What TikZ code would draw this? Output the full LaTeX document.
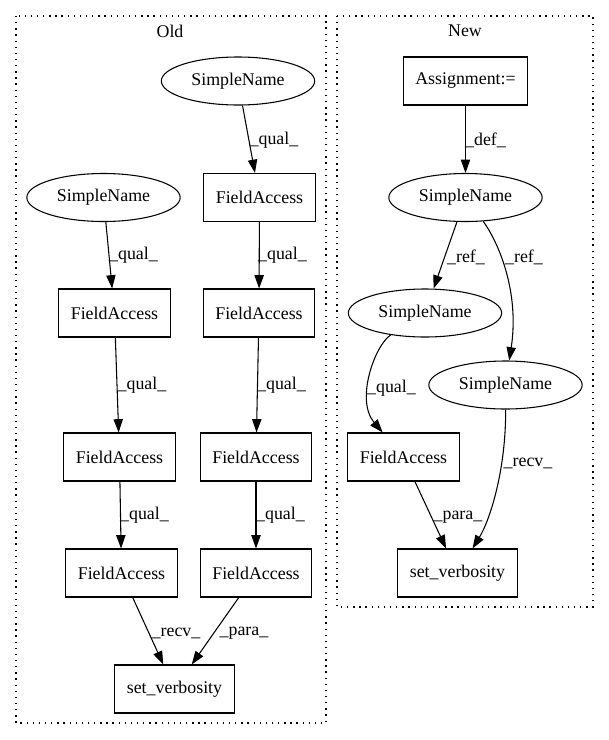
\documentclass[tikz,border=0pt]{standalone}
\usepackage{fontspec}
\setmainfont{Liberation Serif}
\usetikzlibrary{arrows.meta,shapes.geometric}
\begin{document}
\begin{tikzpicture}[x=0.75pt,y=-0.75pt,
  every node/.style={font=\fontsize{13.4}{16}\selectfont},
  box/.style={draw,line width=0.8pt,rectangle,minimum height=36pt,inner xsep=9pt,inner ysep=0pt},
  oval/.style={draw,line width=0.8pt,ellipse,minimum width=115pt,minimum height=36pt,inner sep=0pt},
  edge/.style={draw,line width=0.8pt,-{Triangle[length=10pt,width=7pt]}},
  lbl/.style={inner sep=0pt},
  cluster/.style={draw,line width=0.8pt,dash pattern=on 1pt off 3.6pt}]
\useasboundingbox (0,0) rectangle (609,740);
% clusters
\draw[cluster] (16,16) rectangle (326,723);
\draw[cluster] (337,16) rectangle (593,607);
\node[lbl] (oldlbl) at (170,31) {Old};
\node[lbl] (newlbl) at (465,31) {New};
% Old nodes
\node[oval] (osn1) at (238,81) {SimpleName};
\node[box] (ofr1) at (259.5,197.5) {FieldAccess};
\node[oval] (osn2) at (103.5,197.5) {SimpleName};
\node[box] (ofl2) at (114.5,313) {FieldAccess};
\node[box] (ofr2) at (259,313) {FieldAccess};
\node[box] (ofl3) at (119.5,457) {FieldAccess};
\node[box] (ofr3) at (256,457) {FieldAccess};
\node[box] (ofl4) at (121.5,573) {FieldAccess};
\node[box] (ofr4) at (256,573) {FieldAccess};
\node[box] (osv) at (174.5,689) {set\_verbosity};
% Old edges
\draw[edge] (osn1) -- (ofr1);
\draw[edge] (osn2) -- (ofl2);
\draw[edge] (ofr1) -- (ofr2);
\draw[edge] (ofl2) -- (ofl3);
\draw[edge] (ofr2) -- (ofr3);
\draw[edge] (ofl3) -- (ofl4);
\draw[edge] (ofr3) -- (ofr4);
\draw[edge] (ofl4) -- (osv);
\draw[edge] (ofr4) -- (osv);
% Old labels
\node[lbl] (ol1) at (274,140) {\_qual\_};
\node[lbl] (ol2) at (133.5,255) {\_qual\_};
\node[lbl] (ol3) at (282.5,255) {\_qual\_};
\node[lbl] (ol4) at (142,385) {\_qual\_};
\node[lbl] (ol5) at (281.5,385) {\_qual\_};
\node[lbl] (ol6) at (144.5,515) {\_qual\_};
\node[lbl] (ol7) at (280.5,515) {\_qual\_};
\node[lbl] (ol8) at (176,633) {\_recv\_};
\node[lbl] (ol9) at (244,633) {\_para\_};
% New nodes
\node[box] (nas) at (465.5,81) {Assignment:=};
\node[oval] (nsn) at (465.5,197.5) {SimpleName};
\node[oval] (nsl) at (425,313) {SimpleName};
\node[oval] (nsr) at (505.5,385) {SimpleName};
\node[box] (nfa) at (403.5,457) {FieldAccess};
\node[box] (nsv) at (457.5,573) {set\_verbosity};
% New edges
\draw[edge] (nas) -- (nsn);
\draw[edge] (nsn) -- (nsl);
\draw[edge] (nsn) .. controls (497,240) and (520,290) .. (nsr);
\draw[edge] (nsl) .. controls (375,345) and (355,400) .. (nfa);
\draw[edge] (nsr) .. controls (506,470) and (490,520) .. (nsv);
\draw[edge] (nfa) -- (nsv);
% New labels
\node[lbl] (nl1) at (485.5,140) {\_def\_};
\node[lbl] (nl2) at (466,257) {\_ref\_};
\node[lbl] (nl3) at (524,257) {\_ref\_};
\node[lbl] (nl4) at (391.5,388) {\_qual\_};
\node[lbl] (nl5) at (528,463) {\_recv\_};
\node[lbl] (nl6) at (458,517) {\_para\_};
\end{tikzpicture}
\end{document}
